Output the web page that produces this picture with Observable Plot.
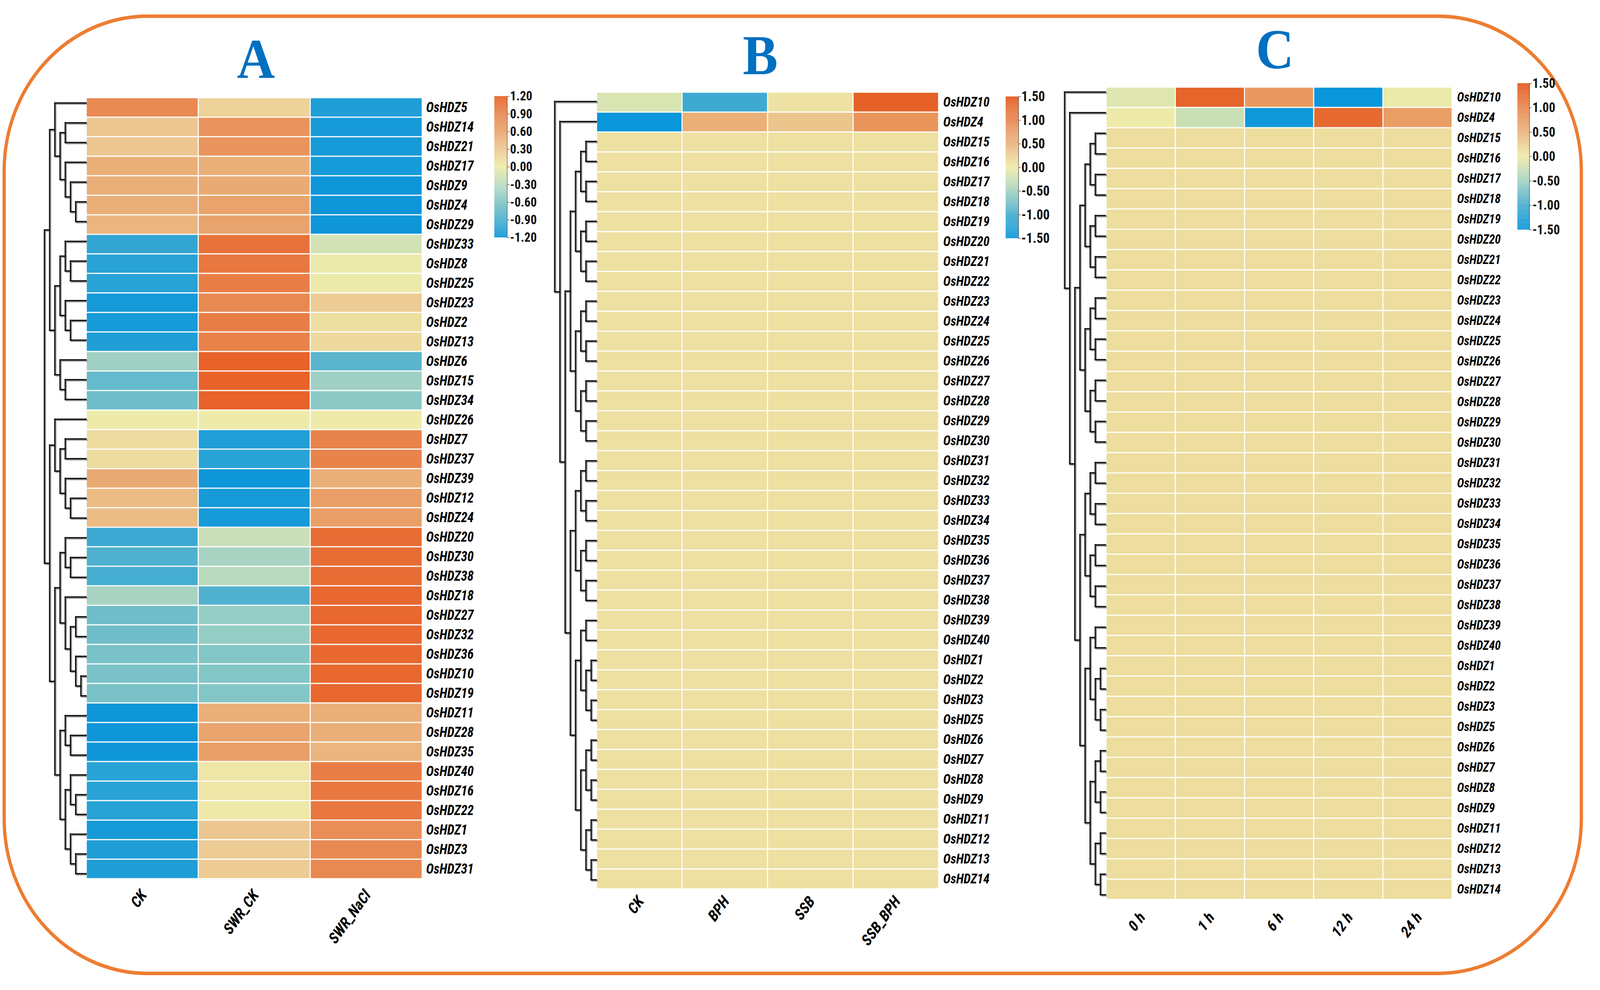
<!DOCTYPE html>
<html><head><meta charset="utf-8">
<script src="https://cdn.jsdelivr.net/npm/d3@7"></script>
<script src="https://cdn.jsdelivr.net/npm/@observablehq/plot@0.6"></script>
<style>
html,body{margin:0;padding:0;background:#fff;overflow:hidden;}
#wrap{position:relative;overflow:hidden;background:#fff;}
#root{position:absolute;left:0;top:0;width:4415px;height:2535px;overflow:hidden;background:#fff;transform-origin:0 0;}
.frame{position:absolute;left:7px;top:37px;width:4361px;height:2460px;box-sizing:border-box;border:9px solid #ED7D31;border-radius:400px;}
.ttl{position:absolute;font-family:"Liberation Serif","Times New Roman",serif;font-weight:bold;font-size:145px;line-height:145px;color:#0070C0;transform:translateX(-50%);white-space:nowrap;}
</style></head><body><div id="wrap"><div id="root"><div class="frame"></div></div></div>
<script>
// ---------------- DATA ----------------
const colsA = ["CK","SWR_CK","SWR_NaCl"];
const genesA = ["OsHDZ5","OsHDZ14","OsHDZ21","OsHDZ17","OsHDZ9","OsHDZ4","OsHDZ29","OsHDZ33","OsHDZ8","OsHDZ25",
  "OsHDZ23","OsHDZ2","OsHDZ13","OsHDZ6","OsHDZ15","OsHDZ34","OsHDZ26","OsHDZ7","OsHDZ37","OsHDZ39",
  "OsHDZ12","OsHDZ24","OsHDZ20","OsHDZ30","OsHDZ38","OsHDZ18","OsHDZ27","OsHDZ32","OsHDZ36","OsHDZ10",
  "OsHDZ19","OsHDZ11","OsHDZ28","OsHDZ35","OsHDZ40","OsHDZ16","OsHDZ22","OsHDZ1","OsHDZ3","OsHDZ31"];
const valuesA = [
  [0.85, 0.20, -1.10],[0.30, 0.75, -1.15],[0.30, 0.75, -1.15],[0.50, 0.50, -1.15],[0.50, 0.55, -1.20],
  [0.50, 0.60, -1.20],[0.45, 0.60, -1.20],[-1.00, 1.05, -0.15],[-1.05, 1.00, -0.02],[-1.05, 0.95, -0.02],
  [-1.15, 0.85, 0.25],[-1.15, 0.95, 0.10],[-1.10, 0.90, 0.15],[-0.45, 1.20, -0.80],[-0.75, 1.20, -0.45],
  [-0.70, 1.20, -0.55],[0.00, 0.00, 0.00],[0.12, -1.10, 0.90],[0.12, -1.05, 0.90],[0.55, -1.20, 0.50],
  [0.40, -1.15, 0.65],[0.40, -1.15, 0.65],[-0.95, -0.20, 1.10],[-0.85, -0.40, 1.10],[-0.90, -0.30, 1.10],
  [-0.40, -0.85, 1.15],[-0.70, -0.50, 1.15],[-0.70, -0.50, 1.15],[-0.65, -0.60, 1.15],[-0.65, -0.60, 1.15],
  [-0.65, -0.60, 1.15],[-1.20, 0.50, 0.50],[-1.20, 0.60, 0.50],[-1.20, 0.65, 0.45],[-1.05, 0.05, 0.95],
  [-1.05, 0.05, 1.00],[-1.05, 0.02, 1.00],[-1.15, 0.30, 0.80],[-1.10, 0.25, 0.85],[-1.10, 0.25, 0.85]
];
const treeA = [8,
  [7,
    [6, "OsHDZ5", [5, [4,"OsHDZ14","OsHDZ21"], [4,"OsHDZ17",[3,"OsHDZ9",[2,"OsHDZ4","OsHDZ29"]]]]],
    [6, [5, [4,"OsHDZ33",[3,"OsHDZ8","OsHDZ25"]], [4,"OsHDZ23",[3,"OsHDZ2","OsHDZ13"]]],
        [5, "OsHDZ6", [4,"OsHDZ15","OsHDZ34"]]]],
  [7,
    [6, "OsHDZ26", [5, [4,"OsHDZ7","OsHDZ37"], [4,"OsHDZ39",[3,"OsHDZ12","OsHDZ24"]]]],
    [6, [5, [4,"OsHDZ20",[3,"OsHDZ30","OsHDZ38"]],
            [4,"OsHDZ18",[3,[2,"OsHDZ27","OsHDZ32"],[2,"OsHDZ36",[1,"OsHDZ10","OsHDZ19"]]]]],
        [5, [4,"OsHDZ11",[3,"OsHDZ28","OsHDZ35"]],
            [4,[3,"OsHDZ40",[2,"OsHDZ16","OsHDZ22"]],[3,"OsHDZ1",[2,"OsHDZ3","OsHDZ31"]]]]]]
];
const ticksA = [-1.2,-0.9,-0.6,-0.3,0,0.3,0.6,0.9,1.2];
const colorStopsA = ["#0E96D9","#45ADD0","#84C6C6","#BADAC0","#EEEBAA","#ECC690","#E9A46D","#E8834B","#E8622A"];

const colsB = ["CK","BPH","SSB","SSB_BPH"];
const genesB = ["OsHDZ10","OsHDZ4","OsHDZ15","OsHDZ16","OsHDZ17","OsHDZ18","OsHDZ19","OsHDZ20","OsHDZ21","OsHDZ22",
  "OsHDZ23","OsHDZ24","OsHDZ25","OsHDZ26","OsHDZ27","OsHDZ28","OsHDZ29","OsHDZ30","OsHDZ31","OsHDZ32",
  "OsHDZ33","OsHDZ34","OsHDZ35","OsHDZ36","OsHDZ37","OsHDZ38","OsHDZ39","OsHDZ40","OsHDZ1","OsHDZ2",
  "OsHDZ3","OsHDZ5","OsHDZ6","OsHDZ7","OsHDZ8","OsHDZ9","OsHDZ11","OsHDZ12","OsHDZ13","OsHDZ14"];
const valuesB = [
  [-0.15,-1.05,0.08,1.40],[-1.50,0.55,0.35,0.85],
  [0.1,0.1,0.1,0.1],[0.1,0.1,0.1,0.1],[0.1,0.1,0.1,0.1],[0.1,0.1,0.1,0.1],[0.1,0.1,0.1,0.1],
  [0.1,0.1,0.1,0.1],[0.1,0.1,0.1,0.1],[0.1,0.1,0.1,0.1],[0.1,0.1,0.1,0.1],[0.1,0.1,0.1,0.1],
  [0.1,0.1,0.1,0.1],[0.1,0.1,0.1,0.1],[0.1,0.1,0.1,0.1],[0.1,0.1,0.1,0.1],[0.1,0.1,0.1,0.1],
  [0.1,0.1,0.1,0.1],[0.1,0.1,0.1,0.1],[0.1,0.1,0.1,0.1],[0.1,0.1,0.1,0.1],[0.1,0.1,0.1,0.1],
  [0.1,0.1,0.1,0.1],[0.1,0.1,0.1,0.1],[0.1,0.1,0.1,0.1],[0.1,0.1,0.1,0.1],[0.1,0.1,0.1,0.1],
  [0.1,0.1,0.1,0.1],[0.1,0.1,0.1,0.1],[0.1,0.1,0.1,0.1],[0.1,0.1,0.1,0.1],[0.1,0.1,0.1,0.1],
  [0.1,0.1,0.1,0.1],[0.1,0.1,0.1,0.1],[0.1,0.1,0.1,0.1],[0.1,0.1,0.1,0.1],[0.1,0.1,0.1,0.1],
  [0.1,0.1,0.1,0.1],[0.1,0.1,0.1,0.1],[0.1,0.1,0.1,0.1]
];
const treeB = [8, "OsHDZ10", [7, "OsHDZ4", [6,
  [5, [4,[3,[2,"OsHDZ15","OsHDZ16"],[2,"OsHDZ17","OsHDZ18"]],[3,[2,"OsHDZ19","OsHDZ20"],[2,"OsHDZ21","OsHDZ22"]]],
      [4,[3,[2,"OsHDZ23","OsHDZ24"],[2,"OsHDZ25","OsHDZ26"]],[3,[2,"OsHDZ27","OsHDZ28"],[2,"OsHDZ29","OsHDZ30"]]]],
  [5, [4,[3,[2,"OsHDZ31","OsHDZ32"],[2,"OsHDZ33","OsHDZ34"]],[3,[2,"OsHDZ35","OsHDZ36"],[2,"OsHDZ37","OsHDZ38"]]],
      [4,[3,[2,"OsHDZ39","OsHDZ40"],[2,[1,"OsHDZ1","OsHDZ2"],[1,"OsHDZ3","OsHDZ5"]]],
         [3,[2,[1,"OsHDZ6","OsHDZ7"],[1,"OsHDZ8","OsHDZ9"]],[2,[1,"OsHDZ11","OsHDZ12"],[1,"OsHDZ13","OsHDZ14"]]]]]
]]];
const ticksB = [-1.5,-1,-0.5,0,0.5,1,1.5];
const colorStopsB = ["#0A96DA","#45ACD0","#A4D2C2","#EEEBAA","#EAB47D","#E8874D","#E4561C"];

const colsC = ["0 h","1 h","6 h","12 h","24 h"];
const genesC = genesB;
const valuesC = [
  [-0.10,1.35,0.80,-1.50,-0.02],[0.00,-0.25,-1.45,1.30,0.75],
  [0.13,0.13,0.13,0.13,0.13],[0.13,0.13,0.13,0.13,0.13],[0.13,0.13,0.13,0.13,0.13],[0.13,0.13,0.13,0.13,0.13],
  [0.13,0.13,0.13,0.13,0.13],[0.13,0.13,0.13,0.13,0.13],[0.13,0.13,0.13,0.13,0.13],[0.13,0.13,0.13,0.13,0.13],
  [0.13,0.13,0.13,0.13,0.13],[0.13,0.13,0.13,0.13,0.13],[0.13,0.13,0.13,0.13,0.13],[0.13,0.13,0.13,0.13,0.13],
  [0.13,0.13,0.13,0.13,0.13],[0.13,0.13,0.13,0.13,0.13],[0.13,0.13,0.13,0.13,0.13],[0.13,0.13,0.13,0.13,0.13],
  [0.13,0.13,0.13,0.13,0.13],[0.13,0.13,0.13,0.13,0.13],[0.13,0.13,0.13,0.13,0.13],[0.13,0.13,0.13,0.13,0.13],
  [0.13,0.13,0.13,0.13,0.13],[0.13,0.13,0.13,0.13,0.13],[0.13,0.13,0.13,0.13,0.13],[0.13,0.13,0.13,0.13,0.13],
  [0.13,0.13,0.13,0.13,0.13],[0.13,0.13,0.13,0.13,0.13],[0.13,0.13,0.13,0.13,0.13],[0.13,0.13,0.13,0.13,0.13],
  [0.13,0.13,0.13,0.13,0.13],[0.13,0.13,0.13,0.13,0.13],[0.13,0.13,0.13,0.13,0.13],[0.13,0.13,0.13,0.13,0.13],
  [0.13,0.13,0.13,0.13,0.13],[0.13,0.13,0.13,0.13,0.13],[0.13,0.13,0.13,0.13,0.13],[0.13,0.13,0.13,0.13,0.13],
  [0.13,0.13,0.13,0.13,0.13],[0.13,0.13,0.13,0.13,0.13]
];
const treeC = treeB;
const ticksC = ticksB;
const colorStopsC = colorStopsB;

// ---------------- LAYOUT (fit the 4415x2535 design into the viewport) ----------------
const DW = 4415, DH = 2535;
const wrap = document.getElementById("wrap");
const root = document.getElementById("root");
const vw = window.innerWidth || DW, vh = window.innerHeight || DH;
wrap.style.width = vw + "px"; wrap.style.height = vh + "px";
root.style.transform = `scale(${vw / DW}, ${vh / DH})`;

const NARROW = '"Liberation Sans Narrow","Arial Narrow","Roboto Condensed","Liberation Sans",sans-serif';
function place(el, left, top) {
  el.style.position = "absolute"; el.style.left = left + "px"; el.style.top = top + "px";
  el.style.overflow = "visible"; el.style.background = "transparent";
  root.appendChild(el);
}
function colorOf(ticks, stops) {
  return {type: "linear", domain: ticks, range: stops, interpolate: "rgb", clamp: true};
}

function heatmap(o) {
  const data = [];
  o.genes.forEach((g, i) => o.cols.forEach((c, j) => data.push({gene: g, col: c, v: o.values[i][j]})));
  const W = o.cellW * o.cols.length, H = o.rowH * o.genes.length;
  const mT = 4, mB = 300, mR = 240;
  const svg = Plot.plot({
    width: W + mR, height: H + mT + mB,
    marginLeft: 0, marginRight: mR, marginTop: mT, marginBottom: mB,
    x: {domain: o.cols, padding: 0, axis: null},
    y: {domain: o.genes, padding: 0, axis: null},
    color: colorOf(o.ticks, o.stops),
    style: {fontFamily: NARROW, color: "#000"},
    marks: [
      Plot.cell(data, {x: "col", y: "gene", fill: "v", inset: 1.5}),
      Plot.axisY({anchor: "right", label: null, tickSize: 0, tickPadding: o.labelPad, fontSize: o.labelSize,
        fontWeight: "bold", fontStyle: "italic", fill: "#000", fontFamily: NARROW}),
      Plot.text(o.cols, {x: d => d, frameAnchor: "bottom", dx: o.colDx, dy: o.colDy, rotate: -52,
        textAnchor: "end", fontSize: o.colSize, fontStyle: "italic", fontWeight: "bold", fill: "#000", fontFamily: NARROW})
    ]
  });
  place(svg, o.left, o.top - mT);
}

function dendro(o) {
  const idx = new Map(o.genes.map((g, i) => [g, i]));
  const segs = [];
  (function walk(n) {
    if (typeof n === "string") return {y: idx.get(n) + 0.5, h: 0};
    const [h, a, b] = n;
    const A = walk(a), B = walk(b);
    segs.push({x1: h, y1: A.y, x2: h, y2: B.y});
    segs.push({x1: h, y1: A.y, x2: A.h, y2: A.y});
    segs.push({x1: h, y1: B.y, x2: B.h, y2: B.y});
    return {y: (A.y + B.y) / 2, h};
  })(o.tree);
  const H = o.rowH * o.genes.length, mT = 6, mB = 6, mL = 6;
  const svg = Plot.plot({
    width: o.leafX - o.rootX + mL, height: H + mT + mB,
    marginLeft: mL, marginRight: 0, marginTop: mT, marginBottom: mB,
    x: {domain: [o.tree[0], 0], axis: null},
    y: {domain: [o.genes.length, 0], axis: null},
    marks: [
      Plot.link(segs, {x1: "x1", y1: "y1", x2: "x2", y2: "y2", stroke: "#9a9a9a", strokeWidth: 3, dx: 3, dy: 3, strokeLinecap: "square"}),
      Plot.link(segs, {x1: "x1", y1: "y1", x2: "x2", y2: "y2", stroke: "#111", strokeWidth: 3.5, strokeLinecap: "square"})
    ]
  });
  place(svg, o.rootX - mL, o.top - mT);
}

function legend(o) {
  const lo = o.ticks[0], hi = o.ticks[o.ticks.length - 1];
  const step = (hi - lo) / 240;
  const stops = d3.range(240).map(i => lo + i * step);
  const mT = 24, mB = 24, mR = 110;
  const svg = Plot.plot({
    width: o.barW + mR, height: o.barH + mT + mB,
    marginLeft: 0, marginRight: mR, marginTop: mT, marginBottom: mB,
    x: {domain: [0, 1], axis: null},
    y: {domain: [lo, hi], axis: "right", ticks: o.ticks, tickFormat: d => d.toFixed(2), tickSize: 6, tickPadding: 2, label: null, line: true},
    color: colorOf(o.ticks, o.stops),
    style: {fontFamily: NARROW, fontSize: o.fontSize + "px", fontWeight: "bold", color: "#111"},
    marks: [Plot.rect(stops, {x1: 0, x2: 1, y1: d => d, y2: d => d + step * 1.02, fill: d => d + step / 2})]
  });
  place(svg, o.left, o.top - mT);
}

function title(txt, cx, top) {
  const d = document.createElement("div");
  d.className = "ttl"; d.textContent = txt;
  d.style.left = cx + "px"; d.style.top = top + "px";
  root.appendChild(d);
}

// Panel A
heatmap({genes: genesA, cols: colsA, values: valuesA, ticks: ticksA, stops: colorStopsA,
  left: 237, top: 238, cellW: 309.7, rowH: 50.6, labelSize: 36, labelPad: 9, colSize: 40, colDx: 14, colDy: 30});
dendro({tree: treeA, genes: genesA, rootX: 122, leafX: 237, top: 238, rowH: 50.6});
legend({ticks: ticksA, stops: colorStopsA, left: 1364, top: 246, barW: 35, barH: 362, fontSize: 34});
title("A", 706, 79);

// Panel B
heatmap({genes: genesB, cols: colsB, values: valuesB, ticks: ticksB, stops: colorStopsB,
  left: 1645, top: 234, cellW: 236.5, rowH: 51.1, labelSize: 35, labelPad: 11, colSize: 40, colDx: 14, colDy: 30});
dendro({tree: treeB, genes: genesB, rootX: 1530, leafX: 1645, top: 234, rowH: 51.1});
legend({ticks: ticksB, stops: colorStopsB, left: 2775, top: 247, barW: 35, barH: 363, fontSize: 36});
title("B", 2098, 69);

// Panel C
heatmap({genes: genesC, cols: colsC, values: valuesC, ticks: ticksC, stops: colorStopsC,
  left: 3050, top: 209, cellW: 191.8, rowH: 52.7, labelSize: 33, labelPad: 11, colSize: 40, colDx: 14, colDy: 32});
dendro({tree: treeC, genes: genesC, rootX: 2937, leafX: 3050, top: 209, rowH: 52.7});
legend({ticks: ticksC, stops: colorStopsC, left: 4187, top: 213, barW: 33, barH: 375, fontSize: 35});
title("C", 3518, 54);
</script>
</body></html>
